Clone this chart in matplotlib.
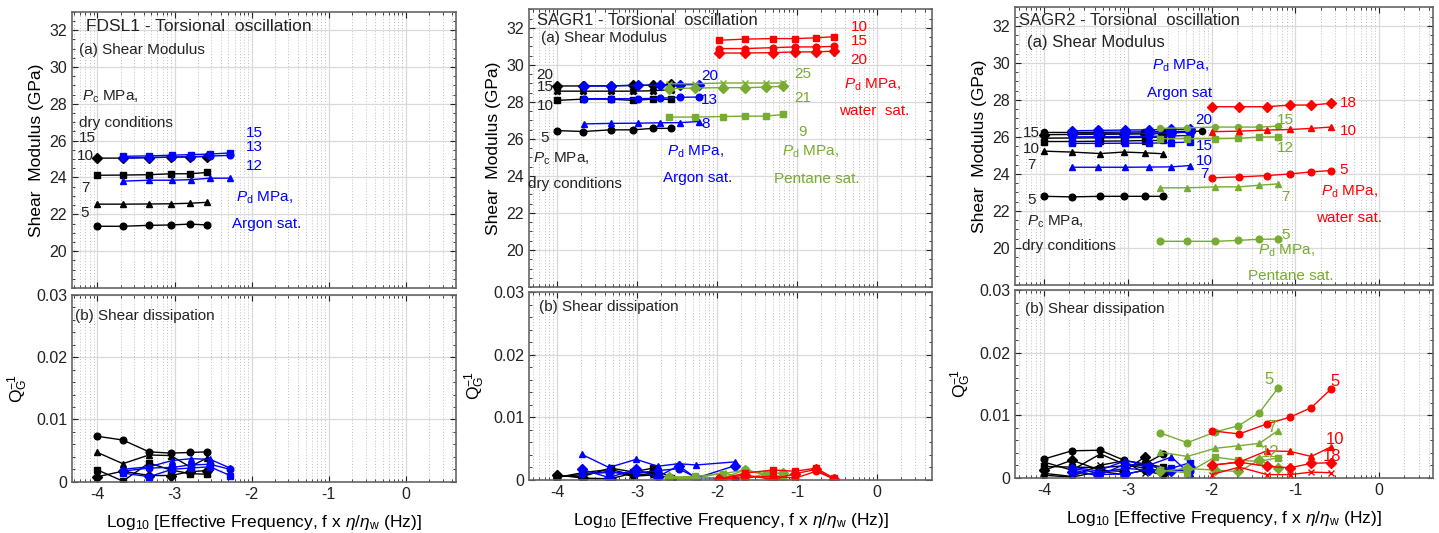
import numpy as np
import matplotlib
matplotlib.use("Agg")
import matplotlib.pyplot as plt
from matplotlib.ticker import FixedLocator, NullFormatter

plt.rcParams['font.family'] = ['Liberation Sans', 'DejaVu Sans']
plt.rcParams['axes.unicode_minus'] = False
plt.rcParams['mathtext.fontset'] = 'custom'
plt.rcParams['mathtext.rm'] = 'Liberation Sans'
plt.rcParams['mathtext.it'] = 'Liberation Sans:italic'
plt.rcParams['mathtext.bf'] = 'Liberation Sans:bold'

BLACK, BLUE, RED, GREEN = 'black', '#0000ff', '#ff0000', '#77ac30'

# ---------------- x positions (log10 effective frequency) ----------------
x_dry = [-4.0, -3.67, -3.33, -3.05, -2.80, -2.58]
x_ar1 = [-3.67, -3.33, -3.03, -2.79, -2.54, -2.28]
x_ar2 = [-3.66, -3.32, -2.99, -2.71, -2.46, -2.23]
x_ar2_q = [-3.69, -3.35, -3.01, -2.74, -2.48, -2.26, -1.77]
x_pent2 = [-2.60, -2.27, -1.93, -1.65, -1.39, -1.17]
x_wat2 = [-1.98, -1.65, -1.30, -1.02, -0.76, -0.54]
x_ar3 = [-3.67, -3.36, -3.03, -2.75, -2.48, -2.26]
x_dry3_long = [-4.0, -3.67, -3.34, -3.05, -2.81, -2.58, -2.12]
x_pent3 = [-2.62, -2.29, -1.96, -1.68, -1.43, -1.21]
x_wat3 = [-2.0, -1.67, -1.34, -1.06, -0.81, -0.58]

# ---------------- FDSL1 ----------------
f1_G_dry = {
    '5':  [21.35, 21.35, 21.40, 21.42, 21.47, 21.42],
    '7':  [22.55, 22.55, 22.56, 22.57, 22.60, 22.65],
    '10': [24.12, 24.13, 24.15, 24.20, 24.20, 24.27],
    '15': [25.05, 25.05, 25.08, 25.10, 25.12, 25.13],
}
f1_G_ar = {
    '12': [23.80, 23.85, 23.85, 23.88, 23.96, 23.96],
    '13': [25.05, 25.08, 25.10, 25.13, 25.16, 25.20],
    '15': [25.15, 25.17, 25.21, 25.24, 25.27, 25.33],
}
f1_Q_dry = {
    'o': [0.0073, 0.0067, 0.0048, 0.0046, 0.0047, 0.0048],
    '^': [0.0047, 0.0029, 0.0043, 0.0042, 0.0024, 0.0038],
    's': [0.0019, 0.0001, 0.0030, 0.0019, 0.0013, 0.0012],
    'D': [0.0008, 0.0017, 0.0010, 0.0010, 0.0016, 0.0018],
}
f1_Q_ar = {
    '^': [0.0020, 0.0024, 0.0034, 0.0037, 0.0036, 0.0022],
    's': [0.0014, 0.0008, 0.0020, 0.0022, 0.0024, 0.0010],
    'o': [0.0017, 0.0022, 0.0023, 0.0027, 0.0028, 0.0020],
}

# ---------------- SAGR1 ----------------
s1_G_dry = {
    '5':  [26.45, 26.40, 26.49, 26.49, 26.57, 26.57],
    '10': [28.08, 28.15, 28.15, 28.08, 28.15, 28.13],
    '15': [28.58, 28.58, 28.58, 28.58, 28.60, 28.66],
    '20': [28.86, 28.86, 28.87, 28.89, 28.90, 28.95],
}
s1_G_ar = {
    '8':  [26.81, 26.84, 26.85, 26.87, 26.88, 26.94],
    '13': [28.17, 28.17, 28.17, 28.20, 28.25, 28.26],
    '20': [28.86, 28.86, 28.90, 28.90, 28.93, 28.93],
}
s1_G_pent = {
    '9':  [27.18, 27.18, 27.21, 27.23, 27.23, 27.32],
    '21': [28.71, 28.75, 28.77, 28.77, 28.80, 28.84],
    '25': [28.98, 28.98, 29.02, 29.02, 29.02, 29.02],
}
s1_G_wat = {
    '10': [31.33, 31.39, 31.42, 31.42, 31.46, 31.52],
    '15': [30.88, 30.88, 30.93, 30.97, 30.97, 31.00],
    '20': [30.64, 30.64, 30.66, 30.70, 30.70, 30.74],
}
s1_Q_dry = {
    's': [0.0006, 0.0006, 0.0019, 0.0013, 0.0019, 0.0004],
    'o': [0.0004, 0.0012, 0.0017, 0.0008, 0.0010, 0.0002],
    'D': [0.0008, 0.0003, 0.0002, 0.0011, 0.0013, 0.0001],
    'x': [0.0005, 0.0009, 0.0014, 0.0006, 0.0008, 0.0003],
}
s1_Q_ar = {
    '^': [0.0041, 0.0020, 0.0033, 0.0022, 0.0026, 0.0024, 0.0029],
    'D': [0.0017, 0.0004, 0.0017, 0.0005, 0.0023, 0.0003, 0.0023],
    'o': [0.0010, 0.0012, 0.0011, 0.0015, 0.0018, 0.0004, 0.0002],
}
s1_Q_pent = {
    's': [0.0004, 0.0006, 0.0010, 0.0016, 0.0010, 0.0005],
    'D': [0.0005, 0.0004, 0.0003, 0.0016, 0.0008, 0.0012],
    'x': [0.0003, 0.0002, 0.0012, 0.0002, 0.0010, 0.0003],
}
s1_Q_wat = {
    's': [0.0001, 0.0011, 0.0016, 0.0014, 0.0019, 0.0003],
    'D': [0.0002, 0.0008, 0.0001, 0.0010, 0.0017, 0.0001],
    'o': [0.0001, 0.0004, 0.0006, 0.0003, 0.0014, 0.0002],
}

# ---------------- SAGR2 ----------------
s2_G_dry = {
    '5':  [22.79, 22.76, 22.79, 22.79, 22.79, 22.79],
    '7':  [25.23, 25.18, 25.10, 25.18, 25.14, 25.09],
    '10': [25.75, 25.75, 25.77, 25.78, 25.80, 25.81],
    '12': [25.93, 25.94, 25.95, 25.96, 25.97, 25.98],
    '15': [26.12, 26.13, 26.14, 26.15, 26.16, 26.18],
}
s2_G_dry_top = [26.24, 26.24, 26.25, 26.26, 26.27, 26.28, 26.31]
s2_G_ar = {
    '7':  [24.36, 24.36, 24.36, 24.37, 24.38, 24.45],
    '10': [25.65, 25.65, 25.66, 25.66, 25.69, 25.72],
    '12': [26.00, 26.01, 26.02, 26.03, 26.05, 26.08],
    '15': [26.17, 26.18, 26.19, 26.20, 26.22, 26.25],
    '20': [26.33, 26.35, 26.37, 26.38, 26.40, 26.42],
}
s2_G_pent = {
    '5':  [20.36, 20.36, 20.36, 20.41, 20.47, 20.48],
    '7':  [23.25, 23.25, 23.30, 23.30, 23.39, 23.46],
    '12': [25.90, 25.90, 25.90, 25.92, 25.99, 26.00],
    '15': [26.46, 26.49, 26.53, 26.53, 26.53, 26.58],
}
s2_G_wat = {
    '5':  [23.79, 23.84, 23.91, 24.00, 24.11, 24.18],
    '10': [26.28, 26.31, 26.37, 26.40, 26.46, 26.53],
    '18': [27.63, 27.63, 27.63, 27.72, 27.72, 27.81],
}
s2_Q_dry = {
    'o': [0.0030, 0.0043, 0.0044, 0.0028, 0.0022, 0.0038],
    '^': [0.0025, 0.0012, 0.0038, 0.0022, 0.0015, 0.0009],
    's': [0.0018, 0.0017, 0.0016, 0.0019, 0.0022, 0.0017],
    'D': [0.0012, 0.0028, 0.0012, 0.0010, 0.0033, 0.0006],
    'x': [0.0007, 0.0002, 0.0020, 0.0027, 0.0007, 0.0013],
    'p': [0.0004, 0.0001, 0.0010, 0.0005, 0.0012, 0.0004],
}
s2_Q_ar = {
    '^': [0.0017, 0.0011, 0.0027, 0.0020, 0.0033, 0.0006],
    's': [0.0013, 0.0003, 0.0022, 0.0018, 0.0015, 0.0024],
    'o': [0.0015, 0.0008, 0.0015, 0.0012, 0.0013, 0.0010],
    'D': [0.0009, 0.0005, 0.0006, 0.0013, 0.0010, 0.0017],
}
s2_Q_pent = {
    'o': [0.0072, 0.0056, 0.0073, 0.0083, 0.0104, 0.0143],
    '^': [0.0041, 0.0034, 0.0047, 0.0051, 0.0055, 0.0075],
    's': [0.0012, 0.0008, 0.0033, 0.0028, 0.0026, 0.0032],
    'D': [0.0010, 0.0015, 0.0012, 0.0010, 0.0028, 0.0015],
}
s2_Q_wat = {
    'o': [0.0075, 0.0070, 0.0086, 0.0097, 0.0112, 0.0141],
    '^': [0.0020, 0.0025, 0.0043, 0.0042, 0.0034, 0.0049],
    'D': [0.0020, 0.0025, 0.0018, 0.0016, 0.0023, 0.0024],
    'x': [0.0005, 0.0017, 0.0005, 0.0005, 0.0009, 0.0008],
}

G_marker_dry = {'5': 'o', '7': '^', '10': 's', '12': 'X', '15': 'D', '20': 'D'}

# ---------------- figure ----------------
fig = plt.figure(figsize=(14.39, 5.33), dpi=100)

pos_top = [[0.0500, 0.4597, 0.2669, 0.5184],
           [0.3676, 0.4615, 0.2801, 0.5210],
           [0.7053, 0.4653, 0.2903, 0.5210]]
pos_bot = [[0.0500, 0.0962, 0.2669, 0.3503],
           [0.3676, 0.0994, 0.2801, 0.3527],
           [0.7053, 0.1037, 0.2903, 0.3522]]
xlims = [(-4.33, 0.65), (-4.35, 0.69), (-4.35, 0.64)]

minor_x = [n + np.log10(k) for n in range(-5, 1) for k in range(2, 10)]

FS = 11
MS = 4.8


def style(ax, xl, top):
    ax.set_xlim(*xl)
    ax.xaxis.set_major_locator(FixedLocator([-4, -3, -2, -1, 0]))
    ax.xaxis.set_minor_locator(FixedLocator(minor_x))
    ax.grid(True, which='major', color='#d9d9d9', lw=0.9, ls='-')
    ax.grid(True, which='minor', axis='x', color='#bfbfbf', lw=0.7, ls=(0, (1, 2)))
    ax.set_axisbelow(True)
    ax.tick_params(which='both', direction='in', top=True, right=True,
                   labelsize=11.5, colors='#222222')
    ax.tick_params(which='major', length=4)
    ax.tick_params(which='minor', length=2)
    for s in ax.spines.values():
        s.set_color('#666666')
        s.set_linewidth(1.2)
    if top:
        ax.set_ylim(18, 33)
        ax.yaxis.set_major_locator(FixedLocator([20, 22, 24, 26, 28, 30, 32]))
        ax.yaxis.set_minor_locator(FixedLocator(np.arange(18, 33.1, 0.5)))
        ax.xaxis.set_major_formatter(NullFormatter())
        ax.set_ylabel('Shear  Modulus (GPa)', fontsize=12.5, labelpad=4)
    else:
        ax.set_ylim(0, 0.03)
        ax.yaxis.set_major_locator(FixedLocator([0, 0.01, 0.02, 0.03]))
        ax.yaxis.set_minor_locator(FixedLocator(np.arange(0, 0.0301, 0.002)))
        ax.set_yticklabels(['0', '0.01', '0.02', '0.03'])
        ax.set_ylabel(r'Q$_\mathrm{G}^{\mathrm{-1}}$', fontsize=12.5, labelpad=4)
        ax.set_xlabel(r'Log$_{10}$ [Effective Frequency, f x $\eta/\eta_\mathrm{w}$ (Hz)]',
                      fontsize=12.5, labelpad=8)


def plot_series(ax, x, y, color, marker, ms=MS):
    ax.plot(x, y, color=color, marker=marker, ms=ms, lw=1.0,
            mec=color, mfc=color, mew=1.0)


def txt(ax, x, y, s, color='#222222', ha='left', size=FS):
    ax.text(x, y, s, color=color, fontsize=size, ha=ha, va='center')


axes_top = [fig.add_axes(p) for p in pos_top]
axes_bot = [fig.add_axes(p) for p in pos_bot]
for i in range(3):
    style(axes_top[i], xlims[i], True)
    style(axes_bot[i], xlims[i], False)

# ---- FDSL1 top ----
ax = axes_top[0]
for k, v in f1_G_dry.items():
    plot_series(ax, x_dry, v, BLACK, G_marker_dry[k])
for k, m in zip(['12', '13', '15'], ['^', 'o', 's']):
    plot_series(ax, x_ar1, f1_G_ar[k], BLUE, m)
txt(ax, -4.15, 32.2, 'FDSL1 - Torsional  oscillation', size=12.5)
txt(ax, -4.24, 30.92, '(a) Shear Modulus')
txt(ax, -4.2, 28.4, r'$P_\mathrm{c}$ MPa,')
txt(ax, -4.24, 26.98, 'dry conditions')
for lab, yy, xx in [('15', 26.14, -4.24), ('10', 25.14, -4.26), ('7', 23.43, -4.21), ('5', 22.08, -4.22)]:
    txt(ax, xx, yy, lab)
for lab, yy in [('15', 26.44), ('13', 25.68), ('12', 24.6)]:
    txt(ax, -2.07, yy, lab, BLUE)
txt(ax, -2.2, 22.9, r'$P_\mathrm{d}$ MPa,', BLUE)
txt(ax, -2.26, 21.45, 'Argon sat.', BLUE)

# ---- FDSL1 bottom ----
ax = axes_bot[0]
for m, v in f1_Q_dry.items():
    plot_series(ax, x_dry, v, BLACK, m)
for m, v in f1_Q_ar.items():
    plot_series(ax, x_ar1, v, BLUE, m)
txt(ax, -4.29, 0.0266, '(b) Shear dissipation')

# ---- SAGR1 top ----
ax = axes_top[1]
for k, m in zip(['5', '10', '15', '20'], ['o', 's', 'X', 'D']):
    plot_series(ax, x_dry, s1_G_dry[k], BLACK, m)
for k, m in zip(['8', '13', '20'], ['^', 'o', 'D']):
    plot_series(ax, x_ar2, s1_G_ar[k], BLUE, m)
for k, m in zip(['9', '21', '25'], ['s', 'D', 'x']):
    plot_series(ax, x_pent2, s1_G_pent[k], GREEN, m)
for k, m in zip(['10', '15', '20'], ['s', 'o', 'D']):
    plot_series(ax, x_wat2, s1_G_wat[k], RED, m)
txt(ax, -4.25, 32.42, 'SAGR1 - Torsional  oscillation', size=12)
txt(ax, -4.2, 31.46, '(a) Shear Modulus')
for lab, yy in [('20', 29.47), ('15', 28.8), ('10', 27.77), ('5', 26.04)]:
    txt(ax, -4.15, yy, lab, ha='center')
txt(ax, -4.3, 24.9, r'$P_\mathrm{c}$ MPa,')
txt(ax, -4.36, 23.56, 'dry conditions')
for lab, yy in [('20', 29.38), ('13', 28.08), ('8', 26.78)]:
    txt(ax, -2.2, yy, lab, BLUE)
txt(ax, -2.63, 25.3, r'$P_\mathrm{d}$ MPa,', BLUE)
txt(ax, -2.68, 23.87, 'Argon sat.', BLUE)
for lab, yy in [('25', 29.52), ('21', 28.22), ('9', 26.4)]:
    txt(ax, -0.93, yy, lab, GREEN, ha='center')
txt(ax, -1.18, 25.28, r'$P_\mathrm{d}$ MPa,', GREEN)
txt(ax, -1.29, 23.83, 'Pentane sat.', GREEN)
for lab, yy in [('10', 32.05), ('15', 31.28), ('20', 30.25)]:
    txt(ax, -0.33, yy, lab, RED)
txt(ax, -0.41, 28.93, r'$P_\mathrm{d}$ MPa,', RED)
txt(ax, -0.47, 27.5, 'water  sat.', RED)

# ---- SAGR1 bottom ----
ax = axes_bot[1]
for m, v in s1_Q_dry.items():
    plot_series(ax, x_dry, v, BLACK, m)
for m, v in s1_Q_ar.items():
    plot_series(ax, x_ar2_q, v, BLUE, m)
for m, v in s1_Q_pent.items():
    plot_series(ax, x_pent2, v, GREEN, m)
for m, v in s1_Q_wat.items():
    plot_series(ax, x_wat2, v, RED, m)
txt(ax, -4.22, 0.0276, '(b) Shear dissipation')

# ---- SAGR2 top ----
ax = axes_top[2]
for k, m in zip(['5', '7', '10', '12', '15'], ['o', '^', 's', 'X', 'D']):
    plot_series(ax, x_dry, s2_G_dry[k], BLACK, m)
plot_series(ax, x_dry3_long, s2_G_dry_top, BLACK, 'o', ms=4.5)
for k, m in zip(['7', '10', '12', '15', '20'], ['^', 's', 'o', 'D', 'D']):
    plot_series(ax, x_ar3, s2_G_ar[k], BLUE, m)
for k, m in zip(['5', '7', '12', '15'], ['o', '^', 's', 'o']):
    plot_series(ax, x_pent3, s2_G_pent[k], GREEN, m, ms=4.3 if k == '15' else MS)
for k, m in zip(['5', '10', '18'], ['o', '^', 'D']):
    plot_series(ax, x_wat3, s2_G_wat[k], RED, m)
txt(ax, -4.3, 32.27, 'SAGR2 - Torsional  oscillation', size=12)
txt(ax, -4.2, 31.1, '(a) Shear Modulus', size=12)
for lab, yy in [('15', 26.22), ('10', 25.32), ('7', 24.47), ('5', 22.61)]:
    txt(ax, -4.15, yy, lab, ha='center')
txt(ax, -4.21, 21.44, r'$P_\mathrm{c}$ MPa,')
txt(ax, -4.27, 20.09, 'dry conditions')
txt(ax, -2.71, 29.83, r'$P_\mathrm{d}$ MPa,', BLUE)
txt(ax, -2.77, 28.39, 'Argon sat', BLUE)
for lab, yy in [('20', 26.9), ('15', 25.5), ('10', 24.72), ('7', 24.0)]:
    txt(ax, -2.09, yy, lab, BLUE, ha='center')
for lab, yy in [('15', 26.9), ('12', 25.38), ('7', 22.76), ('5', 20.72)]:
    txt(ax, -1.12, yy, lab, GREEN, ha='center')
txt(ax, -1.45, 19.87, r'$P_\mathrm{d}$ MPa,', GREEN)
txt(ax, -1.57, 18.46, 'Pentane sat.', GREEN)
for lab, yy in [('18', 27.81), ('10', 26.31), ('5', 24.2)]:
    txt(ax, -0.47, yy, lab, RED)
txt(ax, -0.69, 23.06, r'$P_\mathrm{d}$ MPa,', RED)
txt(ax, -0.75, 21.62, 'water sat.', RED)

# ---- SAGR2 bottom ----
ax = axes_bot[2]
for m, v in s2_Q_dry.items():
    plot_series(ax, x_dry, v, BLACK, m)
for m, v in s2_Q_ar.items():
    plot_series(ax, x_ar3, v, BLUE, m)
for m, v in s2_Q_pent.items():
    plot_series(ax, x_pent3, v, GREEN, m)
for m, v in s2_Q_wat.items():
    plot_series(ax, x_wat3, v, RED, m)
txt(ax, -4.23, 0.0269, '(b) Shear dissipation')
for lab, xx, yy in [('5', -1.31, 0.0157), ('7', -1.28, 0.0080), ('12', -1.3, 0.0041)]:
    txt(ax, xx, yy, lab, GREEN, ha='center', size=12)
for lab, xx, yy in [('5', -0.53, 0.0153), ('10', -0.53, 0.0061), ('18', -0.56, 0.0034)]:
    txt(ax, xx, yy, lab, RED, ha='center', size=12)

fig.savefig('out.png', dpi=100)
